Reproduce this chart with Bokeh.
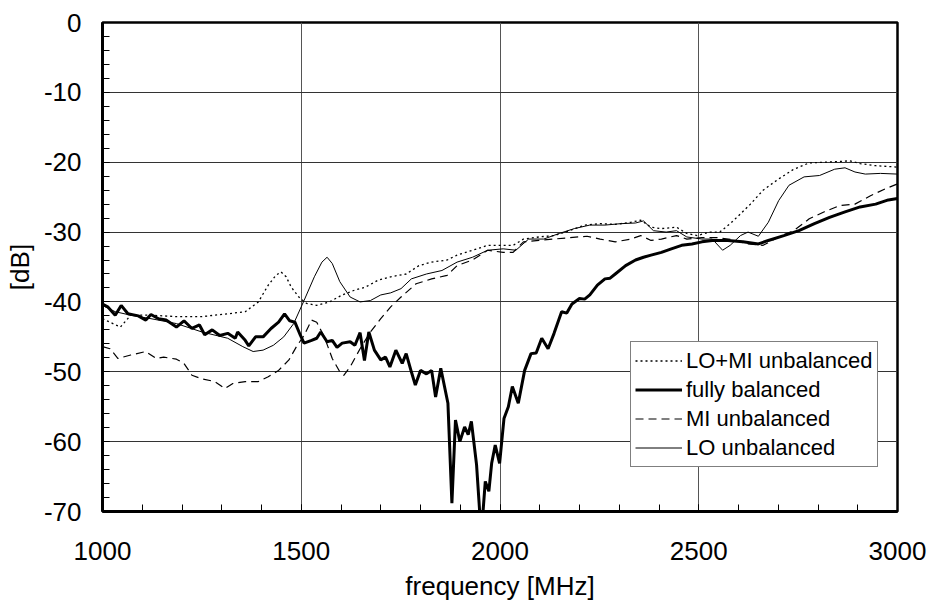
from bokeh.plotting import figure
from bokeh.models import Range1d, FixedTicker, Legend, LegendItem, CustomJSTickFormatter
from bokeh.embed import file_html
from bokeh.resources import INLINE

# ---- data (frequency in MHz, level in dB) ----
fb_freq = [1000, 1013, 1032, 1047, 1064, 1090, 1109, 1122, 1141, 1160, 1186, 1205, 1225, 1244,
           1257, 1276, 1295, 1315, 1334, 1340, 1359, 1368, 1385, 1404, 1424, 1443, 1458, 1471,
           1484, 1498, 1507, 1526, 1539, 1549, 1565, 1578, 1590, 1603, 1623, 1635, 1648, 1659,
           1670, 1684, 1700, 1712, 1723, 1738, 1754, 1764, 1777, 1787, 1800, 1815, 1828, 1838,
           1851, 1869, 1879, 1888, 1899, 1911, 1920, 1928, 1941, 1950, 1956, 1963, 1972, 1979,
           1988, 1999, 2010, 2021, 2031, 2046, 2062, 2078, 2091, 2105, 2121, 2136, 2155, 2168,
           2181, 2200, 2213, 2226, 2245, 2264, 2277, 2290, 2316, 2341, 2361, 2380, 2406, 2431,
           2457, 2483, 2508, 2534, 2573, 2611, 2650, 2675, 2714, 2752, 2791, 2829, 2868, 2906,
           2945, 2977, 3000]
fb_db = [-40.3, -40.7, -41.9, -40.5, -41.7, -42.0, -42.6, -41.8, -42.4, -42.6, -43.6, -42.7,
         -43.8, -43.3, -44.7, -44.0, -44.8, -44.5, -45.2, -44.3, -45.5, -46.3, -45.0, -45.0,
         -43.8, -42.9, -41.7, -42.7, -42.9, -44.8, -45.9, -45.5, -45.2, -44.3, -45.7, -45.5,
         -46.5, -45.9, -45.7, -46.2, -44.4, -48.4, -44.3, -46.9, -48.3, -47.9, -49.3, -46.9,
         -48.8, -47.4, -50.0, -51.9, -49.8, -50.3, -49.8, -53.6, -49.5, -54.5, -68.8, -56.9,
         -60.0, -57.9, -59.0, -57.1, -63.3, -71.0, -71.0, -65.7, -67.1, -63.1, -60.5, -63.1,
         -56.7, -55.0, -52.1, -54.5, -49.8, -47.4, -47.3, -45.2, -46.7, -44.5, -41.4, -41.6,
         -40.3, -39.5, -39.6, -39.0, -37.6, -36.7, -36.6, -36.0, -34.8, -34.0, -33.6, -33.3,
         -32.9, -32.4, -31.9, -31.7, -31.4, -31.2, -31.2, -31.4, -31.7, -31.2, -30.5, -29.8,
         -28.8, -27.9, -27.1, -26.4, -26.0, -25.4, -25.2]

lomi_freq = [1000, 1045, 1071, 1122, 1186, 1250, 1315, 1359, 1392, 1417, 1436, 1449, 1462, 1475,
             1494, 1513, 1539, 1571, 1603, 1635, 1661, 1693, 1725, 1764, 1796, 1828, 1867, 1892,
             1931, 1969, 1999, 2033, 2059, 2098, 2136, 2175, 2213, 2252, 2290, 2329, 2354, 2380,
             2406, 2444, 2470, 2496, 2528, 2553, 2579, 2605, 2630, 2662, 2701, 2739, 2778, 2816,
             2855, 2880, 2906, 2945, 3000]
lomi_db = [-42.4, -43.6, -41.9, -41.9, -42.1, -42.1, -41.7, -41.4, -40.0, -37.6, -36.2, -35.7,
           -36.4, -37.9, -39.3, -40.2, -40.5, -40.0, -39.0, -38.3, -37.9, -36.9, -36.4, -36.0,
           -34.8, -34.3, -34.0, -33.3, -32.6, -31.9, -31.9, -31.9, -31.0, -30.7, -30.5, -29.8,
           -29.0, -28.8, -28.9, -28.6, -28.3, -29.3, -29.5, -29.3, -30.2, -30.5, -30.0, -30.0,
           -28.8, -27.4, -26.0, -24.0, -22.4, -21.0, -20.1, -20.0, -19.9, -19.8, -20.2, -20.5,
           -20.7]

mi_freq = [1000, 1019, 1039, 1071, 1109, 1135, 1154, 1186, 1205, 1225, 1250, 1282, 1308, 1327,
           1359, 1392, 1417, 1443, 1469, 1488, 1507, 1526, 1539, 1558, 1578, 1597, 1607, 1623,
           1648, 1674, 1700, 1725, 1751, 1789, 1828, 1867, 1892, 1931, 1969, 2008, 2033, 2059,
           2098, 2136, 2175, 2219, 2252, 2290, 2329, 2354, 2380, 2406, 2444, 2470, 2508, 2547,
           2585, 2624, 2662, 2701, 2739, 2778, 2816, 2855, 2893, 2932, 2970, 3000]
mi_db = [-46.4, -46.7, -48.1, -47.6, -47.1, -48.1, -47.9, -48.2, -48.8, -50.5, -51.0, -51.4,
         -52.4, -51.7, -51.4, -51.4, -50.7, -49.8, -48.3, -46.4, -44.8, -42.6, -42.9, -45.0,
         -48.1, -50.0, -50.5, -49.3, -46.7, -44.3, -42.4, -40.7, -39.3, -37.4, -36.7, -36.2,
         -34.8, -34.0, -32.6, -32.9, -32.9, -31.4, -31.2, -31.0, -30.8, -30.6, -31.0, -31.4,
         -31.0, -30.5, -31.2, -31.0, -30.5, -31.0, -30.8, -30.8, -31.1, -31.7, -31.9, -30.7,
         -29.8, -28.1, -27.1, -26.2, -26.0, -24.8, -23.8, -23.1]

lo_freq = [1000, 1032, 1071, 1122, 1186, 1250, 1315, 1353, 1379, 1404, 1430, 1456, 1481, 1507,
           1533, 1552, 1565, 1578, 1597, 1623, 1648, 1674, 1700, 1725, 1751, 1777, 1815, 1854,
           1892, 1931, 1969, 2008, 2040, 2072, 2110, 2149, 2187, 2226, 2264, 2303, 2341, 2361,
           2386, 2418, 2444, 2470, 2508, 2534, 2560, 2579, 2605, 2624, 2650, 2675, 2701, 2727,
           2765, 2804, 2842, 2868, 2893, 2919, 2957, 3000]
lo_db = [-40.5, -41.4, -41.9, -42.4, -43.1, -44.3, -45.2, -46.4, -47.1, -46.9, -46.2, -45.0,
         -43.1, -39.8, -36.4, -34.3, -33.6, -34.5, -37.1, -39.3, -40.0, -39.8, -39.0, -38.7,
         -38.1, -36.7, -36.0, -35.5, -34.3, -33.6, -32.6, -32.4, -32.6, -31.0, -31.0, -30.2,
         -29.5, -29.0, -29.0, -28.8, -28.7, -28.4, -29.8, -30.0, -29.8, -30.7, -31.0, -31.0,
         -32.6, -31.9, -30.5, -30.0, -30.6, -28.6, -25.5, -23.3, -22.1, -21.9, -21.0, -20.8,
         -21.4, -21.7, -21.6, -21.7]

x_ticks = [1000, 1500, 2000, 2500, 3000]
y_ticks = [0, -10, -20, -30, -40, -50, -60, -70]
x_minor = list(range(1000, 3001, 100))
y_minor = list(range(-70, 1, 2))

FONT = "Liberation Sans"

p = figure(width=934, height=607, output_backend="svg", toolbar_location=None,
           x_range=Range1d(1000, 3000), y_range=Range1d(-70, 0),
           min_border_left=102, min_border_top=22, min_border_right=37, min_border_bottom=96)
p.background_fill_color = "white"
p.border_fill_color = "white"
p.outline_line_color = "black"
p.outline_line_width = 2.5

plain = CustomJSTickFormatter(code="return String(tick);")
for ax in (p.xaxis[0], p.yaxis[0]):
    ax.formatter = plain
    ax.axis_line_color = "black"
    ax.axis_line_width = 3
    ax.major_tick_in = 7
    ax.major_tick_out = 0
    ax.minor_tick_in = 7
    ax.minor_tick_out = 0
    ax.major_tick_line_color = "black"
    ax.minor_tick_line_color = "black"
    ax.major_tick_line_width = 1
    ax.minor_tick_line_width = 1
    ax.major_label_text_font = FONT
    ax.major_label_text_font_size = "26px"
    ax.major_label_text_color = "black"
    ax.axis_label_text_font = FONT
    ax.axis_label_text_font_size = "26px"
    ax.axis_label_text_font_style = "normal"
    ax.axis_label_text_color = "black"

p.xaxis.ticker = FixedTicker(ticks=x_ticks, minor_ticks=x_minor)
p.yaxis.ticker = FixedTicker(ticks=y_ticks, minor_ticks=y_minor)
p.xaxis.axis_label = "frequency [MHz]"
p.yaxis.axis_label = "[dB]"
p.xaxis.major_label_standoff = 30
p.xaxis.axis_label_standoff = 8
p.yaxis.major_label_standoff = 21
p.yaxis.axis_label_standoff = 6

p.xgrid.grid_line_color = "#555555"
p.ygrid.grid_line_color = "#333333"
p.xgrid.grid_line_width = 1
p.ygrid.grid_line_width = 1

r_lomi = p.line(lomi_freq, lomi_db, line_color="black", line_width=1.3, line_dash="2 3")
r_fb = p.line(fb_freq, fb_db, line_color="black", line_width=3)
r_mi = p.line(mi_freq, mi_db, line_color="black", line_width=1.2, line_dash="8 5")
r_lo = p.line(lo_freq, lo_db, line_color="black", line_width=1)

legend = Legend(items=[
    LegendItem(label="LO+MI unbalanced", renderers=[r_lomi]),
    LegendItem(label="fully balanced", renderers=[r_fb]),
    LegendItem(label="MI unbalanced", renderers=[r_mi]),
    LegendItem(label="LO unbalanced", renderers=[r_lo]),
], location=(528, 44))
legend.label_text_font = FONT
legend.label_text_font_size = "22px"
legend.label_text_color = "black"
legend.glyph_width = 47
legend.glyph_height = 29
legend.label_height = 29
legend.label_standoff = 4
legend.spacing = 0
legend.padding = 4
legend.margin = 0
legend.border_line_color = "black"
legend.border_line_width = 1
legend.background_fill_color = "white"
legend.background_fill_alpha = 1
p.add_layout(legend, "center")

open("out.html", "w").write(file_html(p, INLINE))
